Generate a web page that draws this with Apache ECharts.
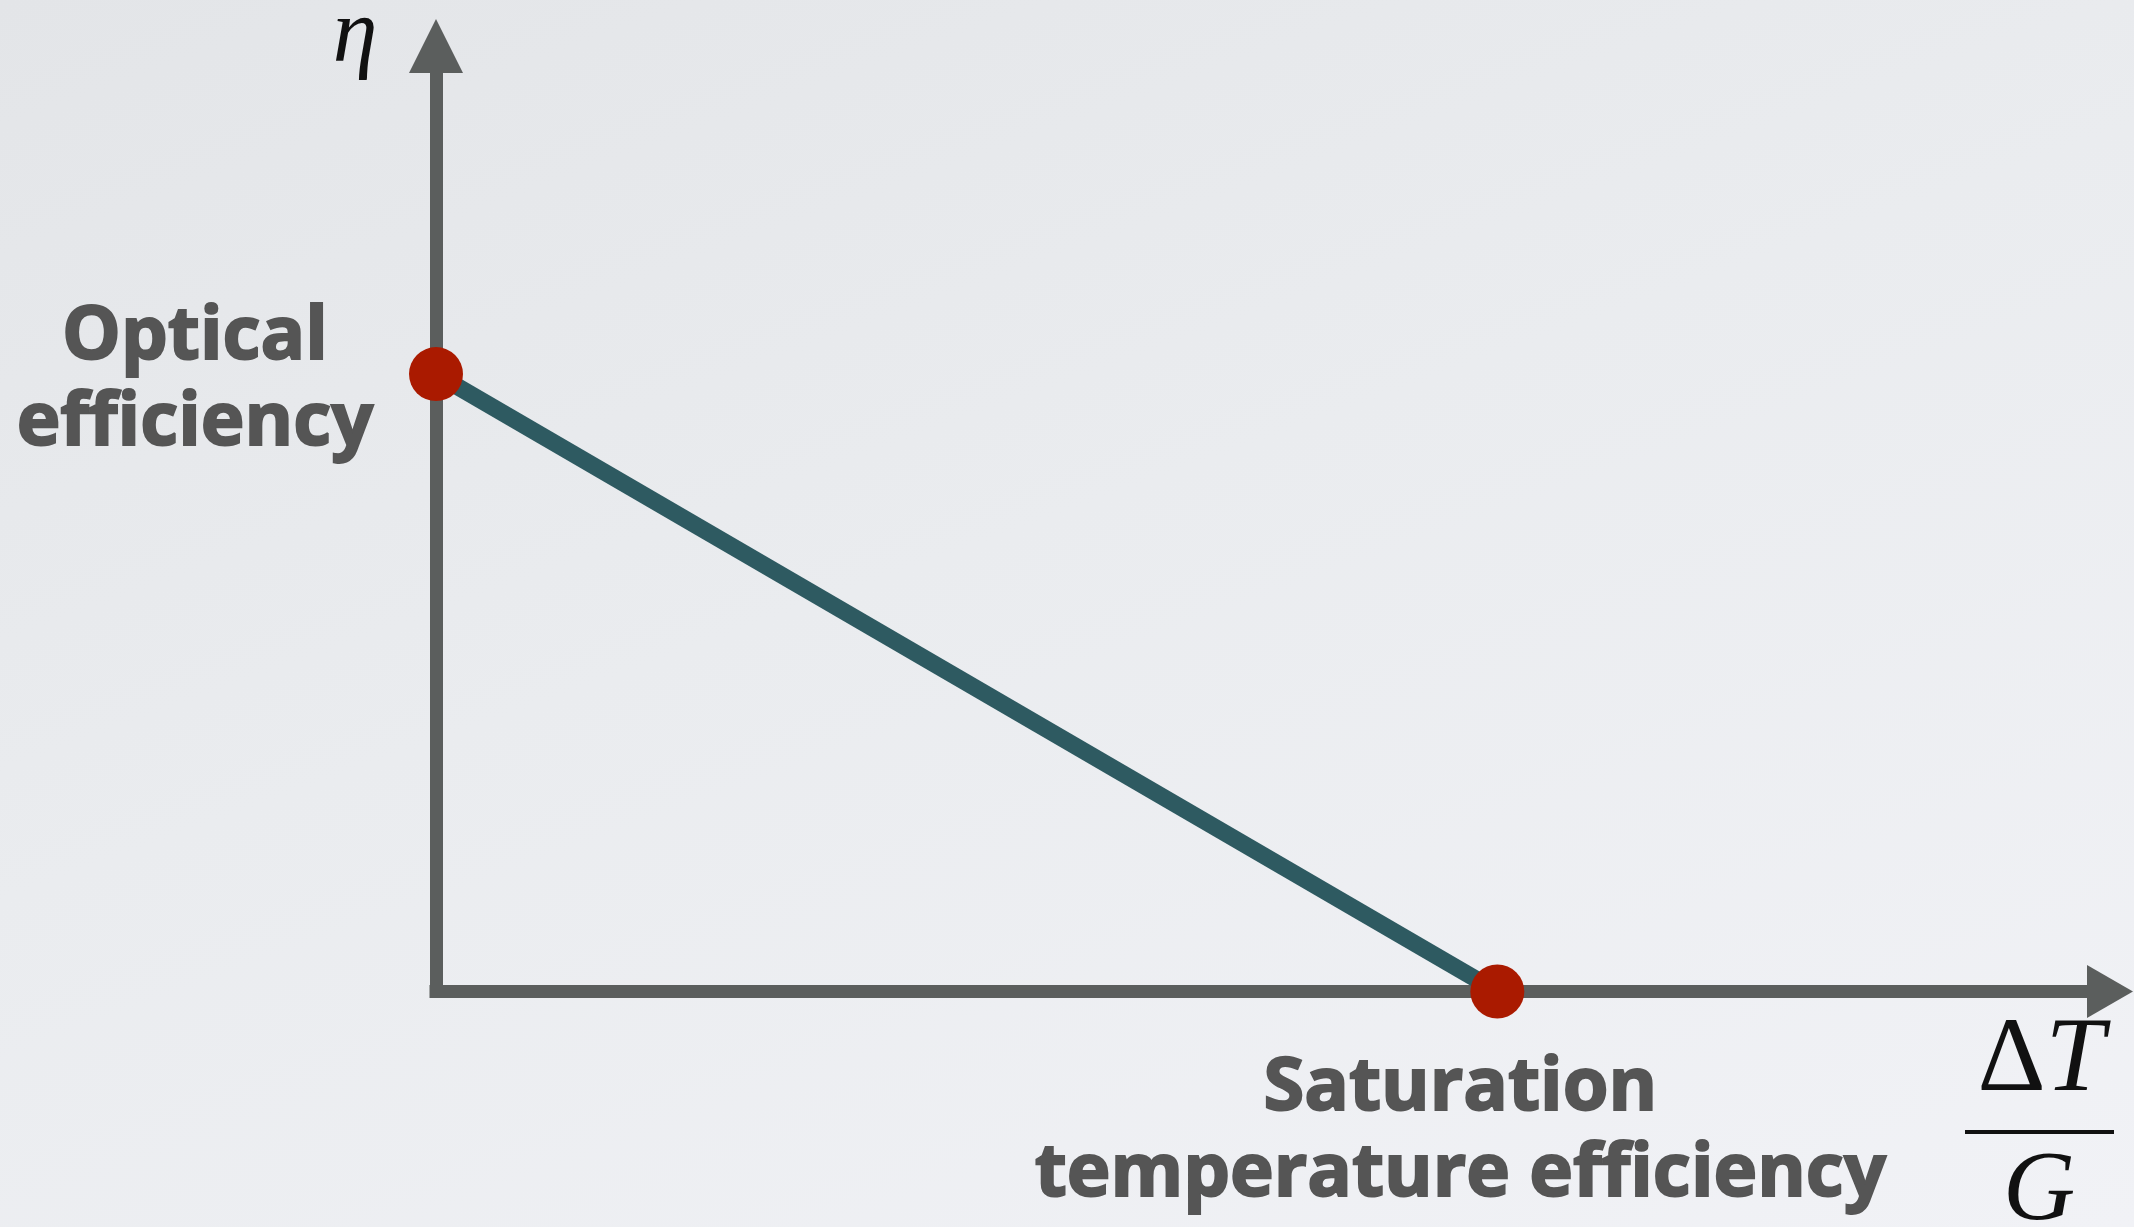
<!DOCTYPE html>
<html><head><meta charset="utf-8">
<script src="https://cdn.jsdelivr.net/npm/echarts@6/dist/echarts.min.js"></script>
<style>
html,body{margin:0;padding:0;width:2134px;height:1227px;overflow:hidden;
background:linear-gradient(160deg,#e3e5e8 0%,#eaecef 45%,#f1f2f6 100%);}
#c{width:2134px;height:1227px;}
</style>
</head><body><div id="c"></div>
<script>
// ---- data ----
const pointNames = ['Optical\nefficiency', 'Saturation\ntemperature efficiency'];
const xValues = [0, 0.634];
const yValues = [0.653, 0];
const yAxisName = 'η';
const xAxisNameTop = 'Δ';
const xAxisNameTopItalic = 'T';
const xAxisNameBottom = 'G';

const chart = echarts.init(document.getElementById('c'), null, {renderer: 'canvas'});
const axisColor = '#5b5e5d';
const option = {
  animation: false,
  backgroundColor: 'transparent',
  grid: {left: 436, right: 24, top: 46, bottom: 235.5, containLabel: false},
  xAxis: {
    type: 'value', min: 0, max: 1,
    axisLine: {show: true, onZero: false, symbol: ['none', 'triangle'], symbolSize: [53, 46],
      lineStyle: {color: axisColor, width: 13, cap: 'square'}},
    axisTick: {show: false}, axisLabel: {show: false}, splitLine: {show: false}
  },
  yAxis: {
    type: 'value', min: 0, max: 1,
    axisLine: {show: true, onZero: false, symbol: ['none', 'triangle'], symbolSize: [54, 54],
      lineStyle: {color: axisColor, width: 13, cap: 'square'}},
    axisTick: {show: false}, axisLabel: {show: false}, splitLine: {show: false}
  },
  series: [{
    type: 'line',
    clip: false,
    data: xValues.map((x, i) => [x, yValues[i]]),
    lineStyle: {color: '#2e5a61', width: 17},
    symbol: 'circle', symbolSize: 54,
    itemStyle: {color: '#aa1a00', borderWidth: 0},
    z: 5
  }]
};
chart.setOption(option);

const p0 = chart.convertToPixel({gridIndex: 0}, [xValues[0], yValues[0]]);
const p1 = chart.convertToPixel({gridIndex: 0}, [xValues[1], yValues[1]]);
const yTop = chart.convertToPixel({gridIndex: 0}, [0, 1]);
const xEnd = chart.convertToPixel({gridIndex: 0}, [1, 0]);

const labelFont = {fontFamily: 'Open Sans', fontWeight: 'bold', fontSize: 74, fill: '#555555',
  stroke: '#555555', lineWidth: 2, lineHeight: 86, align: 'center', verticalAlign: 'middle'};
const mathFont = 'Liberation Serif';

chart.setOption({
  graphic: [
    {type: 'text', z: 10, style: Object.assign({text: pointNames[0], x: p0[0] - 241, y: p0[1] + 7}, labelFont)},
    {type: 'text', z: 10, style: Object.assign({text: pointNames[1], x: p1[0] - 37, y: p1[1] + 140}, labelFont)},
    {type: 'text', z: 10, style: {text: yAxisName, x: yTop[0] - 81, y: yTop[1] - 9,
      fontFamily: mathFont, fontStyle: 'italic', fontSize: 90, fill: '#111', align: 'center', verticalAlign: 'middle'}},
    {type: 'text', z: 10, style: {text: xAxisNameTop + '{it|' + xAxisNameTopItalic + '}', x: xEnd[0] - 69, y: xEnd[1] + 71,
      fontFamily: mathFont, fontSize: 106, fill: '#111', align: 'center', verticalAlign: 'middle',
      rich: {it: {fontFamily: mathFont, fontStyle: 'italic', fontSize: 106, fill: '#111'}}}},
    {type: 'line', z: 10, shape: {x1: xEnd[0] - 145, y1: xEnd[1] + 140.5, x2: xEnd[0] + 4, y2: xEnd[1] + 140.5},
      style: {stroke: '#111', lineWidth: 4}},
    {type: 'text', z: 10, style: {text: xAxisNameBottom, x: xEnd[0] - 71, y: xEnd[1] + 201,
      fontFamily: mathFont, fontStyle: 'italic', fontSize: 100, fill: '#111', align: 'center', verticalAlign: 'middle'}}
  ]
});
</script>
</body></html>
